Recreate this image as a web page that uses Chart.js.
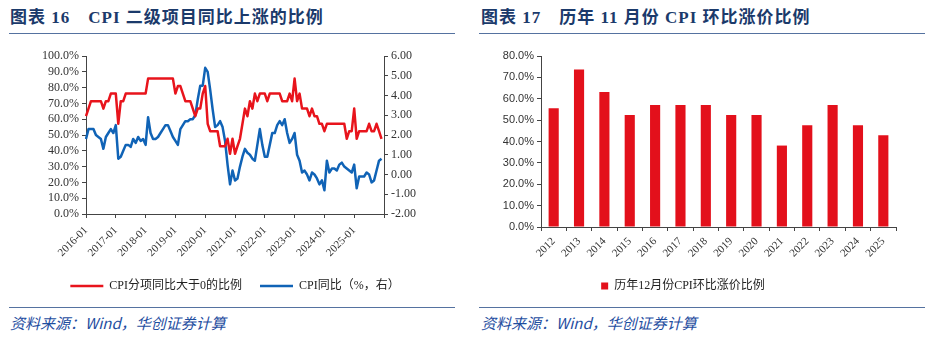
<!DOCTYPE html>
<html>
<head>
<meta charset="utf-8">
<script src="https://cdn.jsdelivr.net/npm/chart.js@4.4.1/dist/chart.umd.min.js"></script>
<style>
  body { margin: 0; width: 935px; height: 338px; background: #fff; position: relative; overflow: hidden; }
  .title { position: absolute; top: 3px; font: bold 17px "Liberation Serif", "Noto Sans CJK SC"; letter-spacing: 1px; color: #1B3A6B; white-space: nowrap; }
  .title .num { margin-right: 18px; }
  .rule { position: absolute; height: 0; border-top: 1.5px solid #5572A0; }
  .source { position: absolute; top: 312px; font: italic 15px "Noto Sans CJK SC"; color: #1F4E9F; white-space: nowrap; }
  .box { position: absolute; top: 40px; height: 262px; }
</style>
</head>
<body>
<div class="title" style="left:10px"><span class="num">图表 16</span>CPI 二级项目同比上涨的比例</div>
<div class="title" style="left:481px"><span class="num">图表 17</span>历年 11 月份 CPI 环比涨价比例</div>
<div class="rule" style="left:9px; width:446px; top:33px"></div>
<div class="rule" style="left:479px; width:446px; top:33px"></div>

<div class="box" style="left:0; width:470px"><canvas id="cpi-share" width="470" height="262"></canvas></div>
<div class="box" style="left:470px; width:465px"><canvas id="nov-rise" width="465" height="262"></canvas></div>

<div class="rule" style="left:9px; width:446px; top:307px"></div>
<div class="rule" style="left:479px; width:446px; top:307px"></div>
<div class="source" style="left:10px">资料来源：Wind，华创证券计算</div>
<div class="source" style="left:481px">资料来源：Wind，华创证券计算</div>

<script>
// monthly axis 2016-01 .. 2026-01 (last slot has no data)
const months = [];
for (let y = 2016; y <= 2026; y++) {
  for (let m = 1; m <= 12; m++) {
    if (y === 2026 && m > 1) break;
    months.push(y + '-' + String(m).padStart(2, '0'));
  }
}

// share of CPI sub-items with positive YoY, %
const shareAbove0 = [
  61.9, 66.7, 71.4, 71.4, 71.4, 71.4, 71.4, 66.7, 71.4, 71.4, 76.2, 76.2,
  76.2, 57.1, 71.4, 71.4, 76.2, 76.2, 76.2, 76.2, 76.2, 76.2, 76.2, 76.2,
  76.2, 85.7, 85.7, 85.7, 85.7, 85.7, 85.7, 85.7, 85.7, 85.7, 85.7, 85.7,
  76.2, 81.0, 81.0, 76.2, 71.4, 71.4, 71.4, 66.7, 61.9, 66.7, 66.7, 76.2,
  81.0, 57.1, 52.4, 52.4, 52.4, 52.4, 42.9, 42.9, 42.9, 47.6, 38.1, 47.6,
  38.1, 42.9, 47.6, 57.1, 66.7, 61.9, 71.4, 66.7, 76.2, 71.4, 76.2, 76.2,
  76.2, 71.4, 76.2, 76.2, 76.2, 76.2, 76.2, 71.4, 71.4, 71.4, 76.2, 71.4,
  85.7, 71.4, 76.2, 66.7, 66.7, 66.7, 61.9, 66.7, 61.9, 61.9, 57.1, 57.1,
  52.4, 57.1, 57.1, 57.1, 57.1, 57.1, 57.1, 57.1, 57.1, 47.6, 52.4, 52.4,
  66.7, 47.6, 52.4, 52.4, 52.4, 52.4, 57.1, 52.4, 52.4, 57.1, 52.4, 47.6
];

// CPI YoY, %
const cpiYoy = [
  1.8, 2.3, 2.3, 2.3, 2.0, 1.9, 1.8, 1.3, 1.9, 2.1, 2.3, 2.1,
  2.5, 0.8, 0.9, 1.2, 1.5, 1.5, 1.4, 1.8, 1.6, 1.9, 1.7, 1.8,
  1.5, 2.9, 2.1, 1.8, 1.8, 1.9, 2.1, 2.3, 2.5, 2.5, 2.2, 1.9,
  1.7, 1.5, 2.3, 2.5, 2.7, 2.7, 2.8, 2.8, 3.0, 3.8, 4.5, 4.5,
  5.4, 5.2, 4.3, 3.3, 2.4, 2.5, 2.7, 2.4, 1.7, 0.5, -0.5, 0.2,
  -0.3, -0.2, 0.4, 0.9, 1.3, 1.1, 1.0, 0.8, 0.7, 1.5, 2.3, 1.5,
  0.9, 0.9, 1.5, 2.1, 2.1, 2.5, 2.7, 2.5, 2.8, 2.1, 1.6, 1.8,
  2.1, 1.0, 0.7, 0.1, 0.2, 0.0, -0.3, 0.1, 0.0, -0.2, -0.5, -0.3,
  -0.8, 0.7, 0.1, 0.3, 0.3, 0.2, 0.5, 0.6, 0.4, 0.3, 0.2, 0.1,
  0.5, -0.7, -0.1, -0.1, -0.1, 0.1, 0.0, -0.4, -0.3, 0.2, 0.7, 0.8
];

// share of CPI items rising MoM, by year
const years = ['2012', '2013', '2014', '2015', '2016', '2017', '2018',
               '2019', '2020', '2021', '2022', '2023', '2024', '2025'];
const risePct = [55.6, 73.7, 63.2, 52.4, 57.1, 57.1, 57.1, 52.4, 52.4, 38.1, 47.6, 57.1, 47.6, 42.9];

const RED = '#E8141C';
const BLUE = '#1063B6';
const AXIS = '#444';
const serif = 'Liberation Serif, "Noto Sans CJK SC"';

function axisGrid() {
  return { drawOnChartArea: false, drawTicks: true, tickLength: 4, color: AXIS };
}

new Chart(document.getElementById('cpi-share'), {
  type: 'line',
  data: {
    labels: months,
    datasets: [
      { label: 'CPI分项同比大于0的比例', data: shareAbove0, yAxisID: 'y',
        borderColor: RED, backgroundColor: RED, borderWidth: 2.5, pointRadius: 0,
        borderJoinStyle: 'round', tension: 0 },
      { label: 'CPI同比（%，右）', data: cpiYoy, yAxisID: 'y1',
        borderColor: BLUE, backgroundColor: BLUE, borderWidth: 2.5, pointRadius: 0,
        borderJoinStyle: 'round', tension: 0 }
    ]
  },
  options: {
    responsive: false,
    animation: false,
    layout: { padding: { top: 16 } },
    plugins: {
      tooltip: { enabled: false },
      legend: {
        position: 'bottom',
        labels: {
          usePointStyle: true, pointStyle: 'line', pointStyleWidth: 33, boxHeight: 12,
          padding: 18, color: '#222', font: { family: serif, size: 12 }
        }
      }
    },
    scales: {
      x: {
        grid: axisGrid(),
        border: { color: AXIS },
        ticks: {
          autoSkip: false, maxRotation: 45, minRotation: 45, padding: 6,
          color: '#333', font: { family: serif, size: 11 },
          callback: function (v, i) {
            const l = months[i];
            if (!l.endsWith('-01')) return null;
            return l === '2026-01' ? '' : l;
          }
        },
        afterFit: function (s) { s.height = 48; }
      },
      y: {
        position: 'left', min: 0, max: 100,
        grid: axisGrid(),
        border: { color: AXIS },
        ticks: { stepSize: 10, autoSkip: false, color: '#333', font: { family: serif, size: 12 },
                 callback: v => v.toFixed(1) + '%' },
        afterFit: function (s) { s.width = 86; }
      },
      y1: {
        position: 'right', min: -2, max: 6,
        grid: axisGrid(),
        border: { color: AXIS },
        ticks: { stepSize: 1, autoSkip: false, color: '#333', font: { family: serif, size: 12 },
                 callback: v => v.toFixed(2) },
        afterFit: function (s) { s.width = 86; }
      }
    }
  }
});

new Chart(document.getElementById('nov-rise'), {
  type: 'bar',
  data: {
    labels: years,
    datasets: [{
      label: '历年12月份CPI环比涨价比例', data: risePct,
      backgroundColor: '#E3101B', barPercentage: 0.4, categoryPercentage: 1
    }]
  },
  options: {
    responsive: false,
    animation: false,
    layout: { padding: { top: 16, right: 39 } },
    plugins: {
      tooltip: { enabled: false },
      legend: {
        position: 'bottom',
        labels: { boxWidth: 7, boxHeight: 7, color: '#222', font: { family: serif, size: 12 } }
      }
    },
    scales: {
      x: {
        grid: Object.assign(axisGrid(), { offset: true }),
        border: { color: AXIS },
        ticks: { maxRotation: 45, minRotation: 45, padding: 4, color: '#333',
                 font: { family: serif, size: 11 } },
        afterFit: function (s) { s.height = 43; }
      },
      y: {
        min: 0, max: 80,
        grid: axisGrid(),
        border: { color: AXIS },
        ticks: { stepSize: 10, autoSkip: false, color: '#333', font: { family: 'Liberation Sans', size: 11 },
                 callback: v => v.toFixed(1) + '%' },
        afterFit: function (s) { s.width = 71; }
      }
    }
  }
});
</script>
</body>
</html>
